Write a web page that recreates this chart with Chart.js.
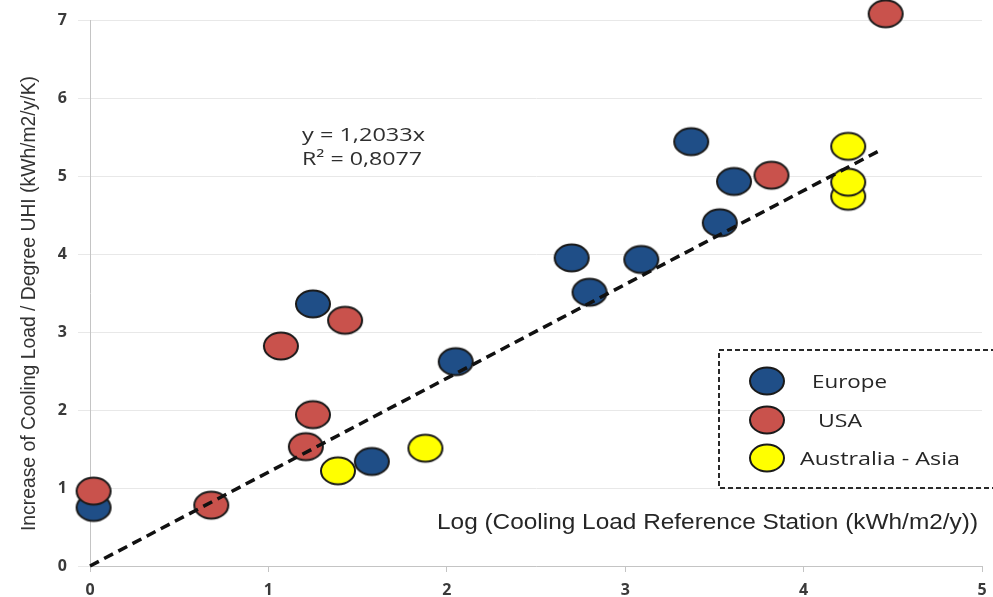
<!DOCTYPE html>
<html>
<head>
<meta charset="utf-8">
<script src="https://cdn.jsdelivr.net/npm/chart.js@4/dist/chart.umd.min.js"></script>
<style>
  html, body { margin: 0; padding: 0; background: #ffffff; }
  #wrap { width: 993px; height: 597px; position: relative; }
</style>
</head>
<body>
<div id="wrap"><canvas id="c" width="993" height="597"></canvas></div>
<script>
// Station data: log of reference cooling load vs. increase of cooling load per degree of UHI
const europeX = [0.02, 1.25, 1.58, 2.05, 2.70, 3.09, 2.80, 3.37, 3.61, 3.53];
const europeY = [0.75, 3.36, 1.34, 2.62, 3.95, 3.93, 3.51, 5.44, 4.93, 4.40];
const usaX    = [0.02, 0.68, 1.07, 1.43, 1.25, 1.21, 3.82, 4.46];
const usaY    = [0.96, 0.78, 2.82, 3.15, 1.94, 1.53, 5.01, 7.08];
const asiaX   = [1.39, 1.88, 4.25, 4.25, 4.25];
const asiaY   = [1.22, 1.51, 5.38, 4.74, 4.92];

// Linear fit through the origin
const trendSlope = 1.2033;
const trendSlopeLabel = '1,2033';
const trendR2Label = '0,8077';
const trendXRange = [0, 4.44];

const seriesNames = ['Europe', 'USA', 'Australia - Asia'];
const xTickValues = [0, 1, 2, 3, 4, 5];
const yTickValues = [0, 1, 2, 3, 4, 5, 6, 7];
const xTitle = 'Log (Cooling Load Reference Station (kWh/m2/y))';
const yTitle = 'Increase of Cooling Load / Degree UHI (kWh/m2/y/K)';

const colors = { europe: '#1f4e87', usa: '#c9524c', asia: '#ffff00' };

// Oval marker drawn once per colour and used as the point style
function ovalMarker(fill) {
  const c = document.createElement('canvas');
  c.width = 40; c.height = 32;
  const g = c.getContext('2d');
  g.beginPath();
  g.ellipse(20, 16, 17, 13.5, 0, 0, Math.PI * 2);
  g.fillStyle = fill;
  g.fill();
  g.lineWidth = 2;
  g.strokeStyle = '#1a1a1a';
  g.stroke();
  return c;
}
const markers = {
  europe: ovalMarker(colors.europe),
  usa: ovalMarker(colors.usa),
  asia: ovalMarker(colors.asia)
};

function pts(xs, ys) { return xs.map((x, i) => ({ x: x, y: ys[i] })); }

// Text squeezed/stretched horizontally to a given width
function fitText(ctx, text, x, y, width, font, color) {
  ctx.save();
  ctx.font = font;
  ctx.fillStyle = color;
  ctx.textAlign = 'left';
  const w = ctx.measureText(text).width;
  ctx.translate(x, y);
  ctx.scale(width / w, 1);
  ctx.fillText(text, 0, 0);
  ctx.restore();
}

const annotations = {
  id: 'annotations',
  afterDraw(chart) {
    const ctx = chart.ctx;
    // Y axis title
    ctx.save();
    ctx.translate(29, 304);
    ctx.rotate(-Math.PI / 2);
    ctx.textBaseline = 'middle';
    fitText(ctx, yTitle, -227, 0, 455, '21px "Liberation Sans"', '#333333');
    ctx.restore();

    // X axis title, placed inside the plot area
    ctx.textBaseline = 'alphabetic';
    fitText(ctx, xTitle, 437, 529, 541, '22px "Liberation Sans"', '#262626');

    // Fit equation
    fitText(ctx, 'y = ' + trendSlopeLabel + 'x', 302, 141, 123, '18px "Open Sans"', '#2e2e2e');
    fitText(ctx, 'R\u00b2 = ' + trendR2Label, 302, 165, 120, '18px "Open Sans"', '#2e2e2e');

    // Legend in a dashed frame
    ctx.save();
    ctx.setLineDash([5, 3]);
    ctx.lineWidth = 2;
    ctx.strokeStyle = '#2a2a2a';
    ctx.strokeRect(719, 350, 290, 138);
    ctx.restore();

    const legendMarks = [markers.europe, markers.usa, markers.asia];
    const rowY = [381, 420, 458];
    const textX = [812, 818, 800];
    const textW = [75, 44, 160];
    ctx.textBaseline = 'middle';
    legendMarks.forEach((m, i) => {
      ctx.drawImage(m, 767 - m.width / 2, rowY[i] - m.height / 2);
      fitText(ctx, seriesNames[i], textX[i], rowY[i] + 2, textW[i], '18px "Open Sans"', '#262626');
    });
  }
};

const tickFont = { family: '"Open Sans", sans-serif', size: 16, weight: 'bold' };

new Chart(document.getElementById('c'), {
  type: 'scatter',
  data: {
    datasets: [
      {
        type: 'line',
        label: 'trend',
        data: trendXRange.map(x => ({ x: x, y: x * trendSlope })),
        borderColor: '#111111',
        borderWidth: 3.5,
        borderDash: [10, 6],
        pointRadius: 0,
        fill: false,
        clip: false
      },
      { label: seriesNames[1], data: pts(usaX, usaY), pointStyle: markers.usa, pointRadius: 10, clip: false },
      { label: seriesNames[0], data: pts(europeX, europeY), pointStyle: markers.europe, pointRadius: 10, clip: false },
      { label: seriesNames[2], data: pts(asiaX, asiaY), pointStyle: markers.asia, pointRadius: 10, clip: false }
    ]
  },
  options: {
    responsive: false,
    animation: false,
    events: [],
    layout: { padding: { top: 20, right: 3, left: 0, bottom: 0 } },
    plugins: { legend: { display: false }, tooltip: { enabled: false } },
    scales: {
      x: {
        type: 'linear',
        min: 0, max: 5,
        afterBuildTicks(s) { s.ticks = xTickValues.map(v => ({ value: v })); },
        afterFit(s) { s.height = 31; s.paddingLeft = 0; s.paddingRight = 0; },
        ticks: { font: tickFont, color: '#3a3a3a', padding: 9 },
        grid: { drawOnChartArea: false, tickLength: 6, color: '#c4c4c4' },
        border: { color: '#c4c4c4' }
      },
      y: {
        type: 'linear',
        min: 0, max: 7,
        afterBuildTicks(s) { s.ticks = yTickValues.map(v => ({ value: v })); },
        afterFit(s) { s.width = 90; s.paddingTop = 0; s.paddingBottom = 0; },
        ticks: { font: tickFont, color: '#3a3a3a', padding: 11 },
        grid: { color: '#e8e8e8', tickLength: 12 },
        border: { color: '#c4c4c4' }
      }
    }
  },
  plugins: [annotations]
});
</script>
</body>
</html>
